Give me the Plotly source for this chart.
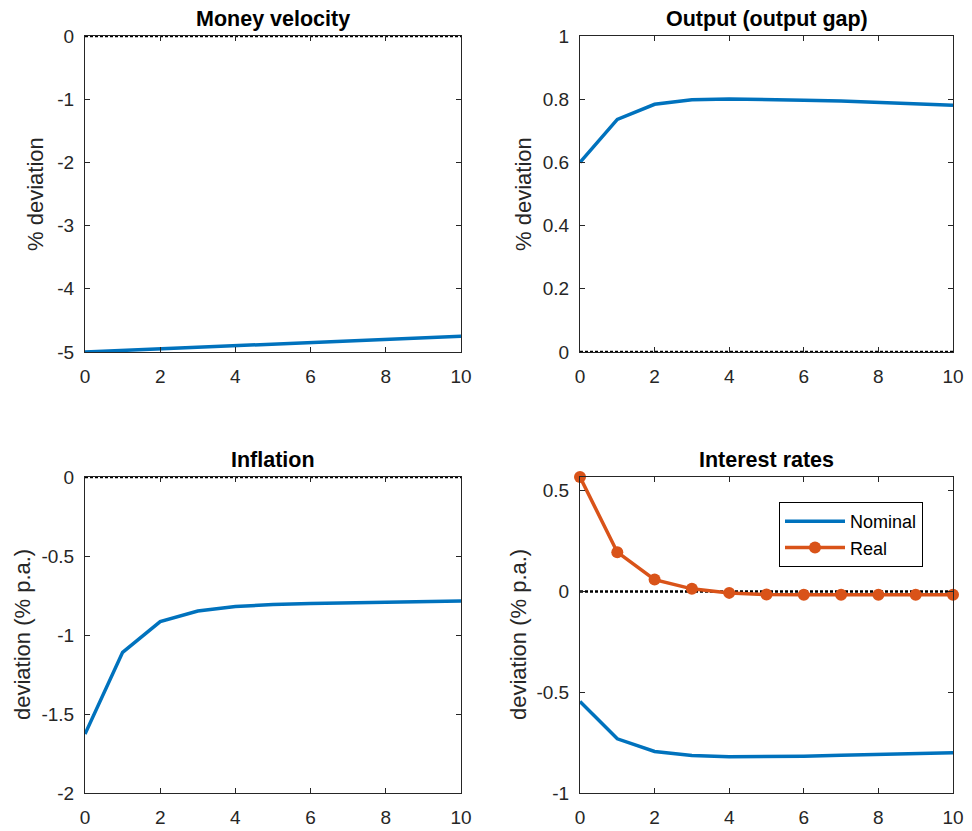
import plotly.graph_objects as go

periods = [0, 1, 2, 3, 4, 5, 6, 7, 8, 9, 10]
money_velocity = [-5.0, -4.975, -4.95, -4.925, -4.90, -4.876, -4.851, -4.826, -4.801, -4.777, -4.752]
output_gap = [0.60, 0.736, 0.784, 0.798, 0.801, 0.800, 0.797, 0.794, 0.790, 0.786, 0.781]
inflation = [-1.627, -1.11, -0.915, -0.848, -0.82, -0.807, -0.800, -0.797, -0.794, -0.790, -0.785]
nominal_rate = [-0.546, -0.731, -0.794, -0.814, -0.820, -0.820, -0.818, -0.813, -0.808, -0.803, -0.800]
real_rate = [0.568, 0.195, 0.059, 0.013, -0.007, -0.015, -0.016, -0.016, -0.016, -0.016, -0.016]
zero_line = [0] * 11

x_ticks = [0, 2, 4, 6, 8, 10]
titles = ["Money velocity", "Output (output gap)", "Inflation", "Interest rates"]
ylabels = ["% deviation", "% deviation", "deviation (% p.a.)", "deviation (% p.a.)"]

BLUE = "#0072BD"
ORANGE = "#D95319"
AX = "#262626"
FONT = "Liberation Sans, Arial, sans-serif"

# page body has an 8px default margin; figure sized to fill the rest of the window
OFF = 8
W, H = 972 - OFF, 831 - OFF


def fx(px):
    return (px - OFF) / W


def fy(px):
    return 1 - (px - OFF) / H


xdom = [[fx(85), fx(461)], [fx(580), fx(953)]]
ydom = [[fy(352), fy(36)], [fy(793), fy(477)]]
ylabel_x = [fx(35), fx(523), fx(22), fx(518)]

fig = go.Figure()

panels = [
    dict(x=xdom[0], y=ydom[0], yr=[-5, 0], yt=[0, -1, -2, -3, -4, -5], ytt=["0", "-1", "-2", "-3", "-4", "-5"]),
    dict(x=xdom[1], y=ydom[0], yr=[0, 1], yt=[0, 0.2, 0.4, 0.6, 0.8, 1], ytt=["0", "0.2", "0.4", "0.6", "0.8", "1"]),
    dict(x=xdom[0], y=ydom[1], yr=[-2, 0], yt=[0, -0.5, -1, -1.5, -2], ytt=["0", "-0.5", "-1", "-1.5", "-2"]),
    dict(x=xdom[1], y=ydom[1], yr=[-1, 0.568], yt=[0.5, 0, -0.5, -1], ytt=["0.5", "0", "-0.5", "-1"]),
]

series = [money_velocity, output_gap, inflation]

for i, p in enumerate(panels):
    n = i + 1
    xa = "x" if n == 1 else f"x{n}"
    ya = "y" if n == 1 else f"y{n}"
    axis_common = dict(
        showline=True, linecolor=AX, linewidth=1, mirror="ticks",
        ticks="inside", ticklen=5, tickcolor=AX, tickwidth=1,
        showgrid=False, zeroline=False, automargin=False,
        tickfont=dict(family=FONT, size=19, color=AX),
    )
    fig.update_layout(**{
        ("xaxis" if n == 1 else f"xaxis{n}"): dict(
            domain=p["x"], anchor=ya, range=[0, 10], tickvals=x_ticks,
            ticktext=[str(v) for v in x_ticks], ticklabelstandoff=7, **axis_common),
        ("yaxis" if n == 1 else f"yaxis{n}"): dict(
            domain=p["y"], anchor=xa, range=p["yr"], tickvals=p["yt"], ticktext=p["ytt"],
            ticklabelstandoff=6, **axis_common),
    })
    # panel title
    fig.add_annotation(
        x=(p["x"][0] + p["x"][1]) / 2, y=p["y"][1], xref="paper", yref="paper",
        text=f"<b>{titles[i]}</b>", showarrow=False, xanchor="center", yanchor="bottom", yshift=3,
        font=dict(family=FONT, size=21.5, color="black"),
    )
    # y-axis label
    fig.add_annotation(
        x=ylabel_x[i], y=(p["y"][0] + p["y"][1]) / 2, xref="paper", yref="paper",
        text=ylabels[i], textangle=-90, showarrow=False, xanchor="center", yanchor="middle",
        font=dict(family=FONT, size=22, color=AX),
    )
    # zero line
    fig.add_trace(go.Scatter(
        x=periods, y=zero_line, xaxis=xa, yaxis=ya, mode="lines",
        line=dict(color="black", width=2.5, dash="3px,2px"), showlegend=False, hoverinfo="skip",
        cliponaxis=False,
    ))
    if i < 3:
        fig.add_trace(go.Scatter(
            x=periods, y=series[i], xaxis=xa, yaxis=ya, mode="lines",
            line=dict(color=BLUE, width=3.5), showlegend=False, cliponaxis=False,
        ))
    else:
        fig.add_trace(go.Scatter(
            x=periods, y=nominal_rate, xaxis=xa, yaxis=ya, mode="lines",
            line=dict(color=BLUE, width=3.5), name="Nominal", cliponaxis=False,
        ))
        fig.add_trace(go.Scatter(
            x=periods, y=real_rate, xaxis=xa, yaxis=ya, mode="lines+markers",
            line=dict(color=ORANGE, width=3.5), marker=dict(color=ORANGE, size=12),
            name="Real", cliponaxis=False,
        ))

fig.update_layout(
    width=W, height=H,
    margin=dict(l=0, r=0, t=0, b=0, autoexpand=False),
    paper_bgcolor="white", plot_bgcolor="white",
    showlegend=True,
    legend=dict(
        x=fx(779), y=fy(502), xanchor="left", yanchor="top",
        bgcolor="white", bordercolor="black", borderwidth=1,
        font=dict(family=FONT, size=18, color="black"),
        itemwidth=60, tracegroupgap=0,
    ),
)

fig.write_html("out.html")
